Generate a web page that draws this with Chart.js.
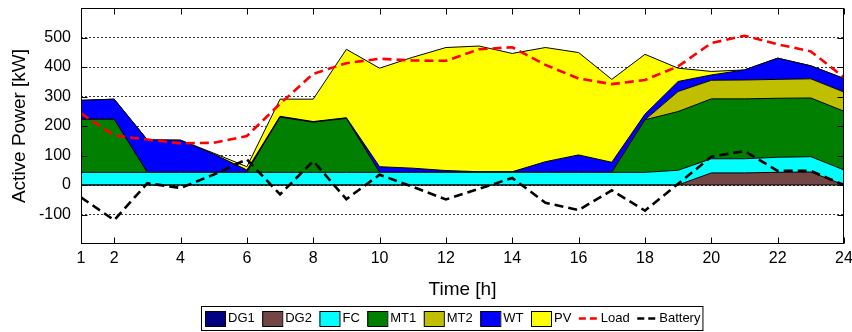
<!DOCTYPE html>
<html>
<head>
<meta charset="utf-8">
<script src="https://cdn.jsdelivr.net/npm/chart.js@4.4.1/dist/chart.umd.min.js"></script>
<style>
html,body{margin:0;padding:0;background:#fff;}
#wrap{width:852px;height:332px;}
</style>
</head>
<body>
<div id="wrap"><canvas id="c" width="852" height="332"></canvas></div>
<script>
// ---- data ----
const hours = [1,2,3,4,5,6,7,8,9,10,11,12,13,14,15,16,17,18,19,20,21,22,23,24];
const xTickValues = [1,2,4,6,8,10,12,14,16,18,20,22,24];
const yTickValues = [-100,0,100,200,300,400,500];

const DG1 = [0,0,0,0,0,0,0,0,0,0,0,0,0,0,0,0,0,0,0,0,0,0,0,0];
const DG2 = [0,0,0,0,0,0,0,0,0,0,0,0,0,0,0,0,0,0,0,41,41,43,44,0];
const FC  = [43,43,43,43,43,43,43,43,43,43,43,43,43,43,43,43,43,43,50,48,48,51,52,51];
const MT1 = [180,180,0,0,0,0,187,170,183,0,0,0,0,0,0,0,0,178,199,203,203,200,199,199];
const MT2 = [0,0,0,0,0,0,0,0,0,0,0,0,0,0,0,0,0,0,68,63,64,64,65,65];
const WT  = [64,68,110,109,62,8,3,2,2,19,14,6,2,2,36,59,34,19,34,18,34,72,44,46];
const PV  = [0,0,0,0,3,11,58,76,232,334,376,417,426,401,387,347,281,203,45,12,0,0,0,0];
const Load    = [243,168,154,141,143,166,275,377,413,428,422,421,460,467,407,361,342,356,402,481,506,477,453,365];
const Battery = [-42,-119,6,-10,35,87,-32,81,-48,35,-6,-49,-13,24,-60,-85,-18,-87,4,96,115,48,48,0];

const FAMILY = '"Liberation Sans", Arial, Helvetica, sans-serif';

function area(label, data, color, fill) {
  return {
    label, data, stack: 'gen', fill,
    backgroundColor: color, borderColor: '#000', borderWidth: 1,
    pointRadius: 0, tension: 0, legendKind: 'box'
  };
}
function dline(label, data, color, order) {
  return {
    label, data, stack: label, fill: false, order,
    borderColor: color, backgroundColor: color, borderWidth: 2.6,
    borderDash: [9, 5], pointRadius: 0, tension: 0, legendKind: 'line'
  };
}

const datasets = [
  area('DG1', DG1, '#000080', 'origin'),
  area('DG2', DG2, '#744545', '-1'),
  area('FC',  FC,  '#00FFFF', '-1'),
  area('MT1', MT1, '#007F00', '-1'),
  area('MT2', MT2, '#BFBF00', '-1'),
  area('WT',  WT,  '#0000FF', '-1'),
  area('PV',  PV,  '#FFFF00', '-1'),
  dline('Load', Load, '#FF0000', -1),
  dline('Battery', Battery, '#000000', -2)
];

const framePlugin = {
  id: 'frame',
  afterDatasetsDraw(chart) {
    const {ctx, chartArea: a, scales} = chart;
    ctx.save();
    ctx.setLineDash([]);
    ctx.strokeStyle = '#000';
    ctx.lineWidth = 1;
    const L = Math.round(a.left) + 0.5, R = Math.round(a.right) - 0.5;
    const T = Math.round(a.top) + 0.5, B = Math.round(a.bottom) - 0.5;
    ctx.strokeRect(L, T, R - L, B - T);
    ctx.beginPath();
    xTickValues.forEach(v => {
      const p = Math.round(scales.x.getPixelForValue(v)) + 0.5;
      ctx.moveTo(p, B); ctx.lineTo(p, B - 6);
      ctx.moveTo(p, T); ctx.lineTo(p, T + 6);
    });
    yTickValues.forEach(v => {
      const p = Math.round(scales.y.getPixelForValue(v)) + 0.5;
      ctx.moveTo(L, p); ctx.lineTo(L + 6, p);
      ctx.moveTo(R, p); ctx.lineTo(R - 6, p);
    });
    ctx.stroke();
    ctx.restore();
  }
};

const legendPlugin = {
  id: 'boxLegend',
  afterDraw(chart) {
    const ctx = chart.ctx;
    ctx.save();
    ctx.font = '13px ' + FAMILY;
    ctx.textBaseline = 'middle';
    const left = 201, top = 306, h = 24, cy = 318.5, gap = 7.5;
    let x = left + 4;
    const items = chart.data.datasets;
    const positions = [];
    items.forEach(ds => {
      const w = ctx.measureText(ds.label).width;
      if (ds.legendKind === 'box') {
        positions.push({ds, bx: x, tx: x + 23});
        x += 23 + w + gap;
      } else {
        positions.push({ds, bx: x, tx: x + 22});
        x += 22 + w + gap;
      }
    });
    const right = x - gap + 2;
    ctx.fillStyle = '#fff';
    ctx.fillRect(left, top, right - left, h);
    ctx.strokeStyle = '#000';
    ctx.lineWidth = 1;
    ctx.setLineDash([]);
    ctx.strokeRect(left + 0.5, top + 0.5, right - left, h);
    positions.forEach(({ds, bx, tx}) => {
      if (ds.legendKind === 'box') {
        ctx.fillStyle = ds.backgroundColor;
        ctx.fillRect(bx, 311, 20, 15);
        ctx.strokeStyle = '#000';
        ctx.lineWidth = 1;
        ctx.setLineDash([]);
        ctx.strokeRect(bx + 0.5, 311.5, 20, 15);
      } else {
        ctx.strokeStyle = ds.borderColor;
        ctx.lineWidth = 2.6;
        ctx.setLineDash([7, 4]);
        ctx.beginPath();
        ctx.moveTo(bx, cy); ctx.lineTo(bx + 18, cy);
        ctx.stroke();
      }
      ctx.fillStyle = '#000';
      ctx.fillText(ds.label, tx, cy);
    });
    ctx.restore();
  }
};

new Chart(document.getElementById('c'), {
  type: 'line',
  data: { labels: hours, datasets },
  plugins: [framePlugin, legendPlugin],
  options: {
    responsive: false,
    animation: false,
    devicePixelRatio: 1,
    layout: { padding: { top: 8, right: 8, left: 0, bottom: 0 } },
    plugins: { legend: { display: false }, tooltip: { enabled: false } },
    scales: {
      x: {
        type: 'linear', min: 1, max: 24,
        afterBuildTicks: s => { s.ticks = xTickValues.map(v => ({ value: v })); },
        afterFit: s => { s.height = 88; s.paddingLeft = 0; s.paddingRight = 0; },
        grid: { display: false, drawTicks: false },
        border: { display: false },
        ticks: { font: { size: 16, family: FAMILY }, color: '#000', padding: 5, maxRotation: 0, autoSkip: false },
        title: { display: true, text: 'Time [h]', color: '#000', font: { size: 19, family: FAMILY }, padding: { top: 0, bottom: 30.6 } }
      },
      y: {
        stacked: true, min: -200, max: 600,
        afterBuildTicks: s => { s.ticks = yTickValues.map(v => ({ value: v })); },
        afterFit: s => { s.width = 81; s.paddingTop = 0; s.paddingBottom = 0; },
        grid: { color: '#222', lineWidth: 0.9, drawTicks: false },
        border: { display: false, dash: [2, 2] },
        ticks: { font: { size: 16, family: FAMILY }, color: '#000', padding: 10 },
        title: { display: true, text: 'Active Power [kW]', color: '#000', font: { size: 19, family: FAMILY }, padding: { top: 8.6, bottom: 0 } }
      }
    }
  }
});
</script>
</body>
</html>
